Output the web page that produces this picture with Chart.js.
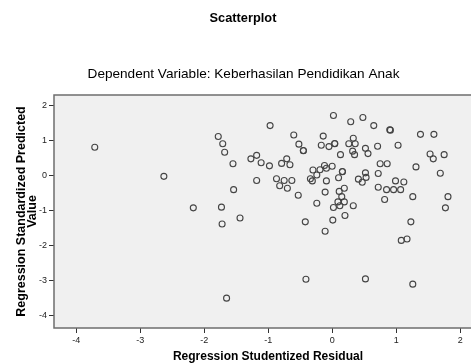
<!DOCTYPE html>
<html>
<head>
<meta charset="utf-8">
<script src="https://cdn.jsdelivr.net/npm/chart.js@4.4.1/dist/chart.umd.min.js"></script>
<style>
  html, body { margin: 0; padding: 0; background: #ffffff; overflow: hidden; }
  canvas { display: block; }
</style>
</head>
<body>
<canvas id="graficoDispersion" width="486" height="363"></canvas>
<script>
// Textos del gráfico
const titulo    = 'Scatterplot';
const subtitulo = 'Dependent Variable: Keberhasilan Pendidikan Anak';
const tituloX   = 'Regression Studentized Residual';
const tituloY   = ['Regression Standardized Predicted', 'Value'];

// Marcas de los ejes
const ticksX = [-4, -3, -2, -1, 0, 1, 2];
const ticksY = [-4, -3, -2, -1, 0, 1, 2];

// Residuo estudentizado (x) y valor predicho estandarizado (y)
const residuos = [
    -3.71, -2.63, -2.17, -1.78, -1.71, -1.68, -1.73, -1.72, -1.65, -1.55,
    -1.54, -1.44, -1.27, -1.18, -1.11, -1.18, -0.98, -0.97, -0.87, -0.79,
    -0.71, -0.66, -0.82, -0.75, -0.70, -0.63, -0.60, -0.52, -0.45, -0.53,
    -0.42, -0.41, -0.34, -0.31, -0.30, -0.24, -0.19, -0.24, -0.17, -0.14,
    -0.12, -0.09, -0.09, -0.11, -0.11, -0.05,  0.00,  0.02,  0.04,  0.02,
     0.01,  0.10,  0.16,  0.11,  0.19,  0.15,  0.09,  0.19,  0.12,  0.20,
     0.13,  0.26,  0.29,  0.33,  0.36,  0.32,  0.35,  0.33,  0.41,  0.47,
     0.52,  0.53,  0.48,  0.52,  0.56,  0.52,  0.65,  0.71,  0.72,  0.75,
     0.86,  0.72,  0.85,  0.96,  1.07,  0.82,  0.91,  0.99,  1.12,  1.03,
     1.26,  1.31,  1.23,  1.08,  1.17,  1.26,  1.38,  1.59,  1.53,  1.58,
     1.75,  1.69,  1.81,  1.77, -0.45,  0.04,  0.16,  0.90
];
const predichos = [
     0.82, -0.01, -0.91,  1.13,  0.92,  0.68, -0.89, -1.37, -3.49,  0.35,
    -0.39, -1.20,  0.49,  0.59,  0.38, -0.13,  0.29,  1.44, -0.08,  0.36,
     0.49,  0.32, -0.28, -0.13, -0.35, -0.13,  1.17,  0.91,  0.72, -0.55,
    -1.31, -2.95, -0.08, -0.14,  0.17,  0.03,  0.18, -0.78,  0.88,  1.14,
     0.30,  0.22, -0.14, -0.46, -1.58,  0.84,  0.28,  1.73,  0.92, -0.90,
    -1.26, -0.05,  0.12, -0.44, -0.35, -0.59, -0.74, -0.74, -0.85, -1.13,
     0.61,  0.92,  1.55,  1.08,  0.92,  0.71,  0.61, -0.85, -0.09, -0.18,
     0.09, -0.04,  1.67,  0.79,  0.64, -2.94,  1.44,  0.85,  0.07,  0.35,
     0.35, -0.32, -0.39, -0.39, -0.39, -0.67,  1.31, -0.14, -0.17,  0.88,
    -0.59,  0.26, -1.31, -1.84, -1.80, -3.09,  1.19,  1.19,  0.63,  0.49,
     0.61,  0.08, -0.59, -0.91,  0.73,  0.93,  0.13,  1.32
];

const fuente = '"Liberation Sans", Arial, sans-serif';

// Fondo gris del área, títulos superiores y marco
const fondoYMarco = {
    id: 'fondoYMarco',
    beforeDraw(chart){
        const {ctx, chartArea: a} = chart;
        ctx.save();
        ctx.fillStyle = '#ffffff';
        ctx.fillRect(0, 0, chart.width, chart.height);
        ctx.fillStyle = '#f0f0f0';
        ctx.fillRect(a.left, a.top, a.right - a.left, a.bottom - a.top);
        ctx.fillStyle = '#000000';
        ctx.textAlign = 'center';
        ctx.textBaseline = 'middle';
        ctx.font = 'bold 12.8px ' + fuente;
        ctx.fillText(titulo, 243, 18);
        ctx.font = '13.6px ' + fuente;
        ctx.fillText(subtitulo, 243.5, 74);
        ctx.restore();
    },
    afterDatasetsDraw(chart){
        const {ctx, chartArea: a} = chart;
        ctx.save();
        ctx.strokeStyle = '#6e6e6e';
        ctx.lineWidth = 1.5;
        ctx.strokeRect(a.left, a.top, a.right - a.left, a.bottom - a.top);
        ctx.restore();
    }
};

const puntos = residuos.map((x, i) => ({ x: x, y: predichos[i] }));

new Chart(document.getElementById('graficoDispersion'), {
    type: 'scatter',
    data: {
        datasets: [{
            data: puntos,
            pointStyle: 'circle',
            pointRadius: 3,
            pointHoverRadius: 3,
            backgroundColor: 'rgba(0,0,0,0)',
            borderColor: '#444444',
            borderWidth: 1.1
        }]
    },
    options: {
        responsive: false,
        animation: false,
        layout: { padding: { top: 95, right: 2, left: 0, bottom: 0 } },
        plugins: {
            legend:  { display: false },
            tooltip: { enabled: false }
        },
        scales: {
            x: {
                type: 'linear',
                min: -4.347,
                max: 2.34,
                afterFit: s => { s.height = 35; },
                afterBuildTicks: s => { s.ticks = ticksX.map(v => ({ value: v })); },
                grid:   { drawOnChartArea: false, drawTicks: true, tickLength: 5, color: '#333333' },
                border: { display: false },
                ticks:  { color: '#222222', font: { size: 9, family: fuente }, padding: 2, maxRotation: 0 },
                title:  {
                    display: true,
                    text: tituloX,
                    color: '#000000',
                    font: { size: 12, weight: 'bold', family: fuente, lineHeight: 1 },
                    padding: { top: 1, bottom: 0 }
                }
            },
            y: {
                type: 'linear',
                min: -4.343,
                max: 2.314,
                afterFit: s => { s.width = 54; },
                afterBuildTicks: s => { s.ticks = ticksY.map(v => ({ value: v })); },
                grid:   { drawOnChartArea: false, drawTicks: true, tickLength: 5, color: '#333333' },
                border: { display: false },
                ticks:  { color: '#222222', font: { size: 9, family: fuente }, padding: 2 },
                title:  {
                    display: true,
                    text: tituloY,
                    color: '#000000',
                    font: { size: 12.5, weight: 'bold', family: fuente, lineHeight: 0.9 },
                    padding: { top: 15.5, bottom: 0 }
                }
            }
        }
    },
    plugins: [fondoYMarco]
});
</script>
</body>
</html>
